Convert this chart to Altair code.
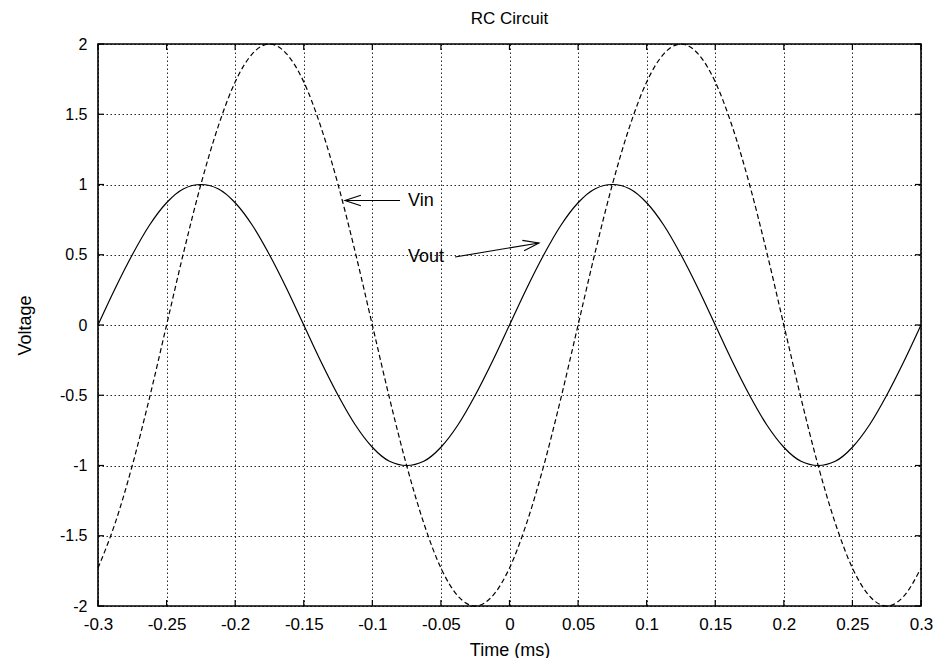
import altair as alt
import pandas as pd

# sampled read-off values
time_ms = [-0.3, -0.2875, -0.275, -0.2625, -0.25, -0.2375, -0.225, -0.2125, -0.2, -0.1875,
           -0.175, -0.1625, -0.15, -0.1375, -0.125, -0.1125, -0.1, -0.0875, -0.075, -0.0625,
           -0.05, -0.0375, -0.025, -0.0125, 0.0, 0.0125, 0.025, 0.0375, 0.05, 0.0625,
           0.075, 0.0875, 0.1, 0.1125, 0.125, 0.1375, 0.15, 0.1625, 0.175, 0.1875,
           0.2, 0.2125, 0.225, 0.2375, 0.25, 0.2625, 0.275, 0.2875, 0.3]
vout = [0, 0.26, 0.5, 0.71, 0.87, 0.97, 1, 0.97, 0.87, 0.71, 0.5, 0.26, 0,
        -0.26, -0.5, -0.71, -0.87, -0.97, -1, -0.97, -0.87, -0.71, -0.5, -0.26, 0,
        0.26, 0.5, 0.71, 0.87, 0.97, 1, 0.97, 0.87, 0.71, 0.5, 0.26, 0,
        -0.26, -0.5, -0.71, -0.87, -0.97, -1, -0.97, -0.87, -0.71, -0.5, -0.26, 0]
vin = [-1.73, -1.41, -1, -0.52, 0, 0.52, 1, 1.41, 1.73, 1.93, 2, 1.93, 1.73,
       1.41, 1, 0.52, 0, -0.52, -1, -1.41, -1.73, -1.93, -2, -1.93, -1.73,
       -1.41, -1, -0.52, 0, 0.52, 1, 1.41, 1.73, 1.93, 2, 1.93, 1.73,
       1.41, 1, 0.52, 0, -0.52, -1, -1.41, -1.73, -1.93, -2, -1.93, -1.73]

x_ticks = [-0.3, -0.25, -0.2, -0.15, -0.1, -0.05, 0, 0.05, 0.1, 0.15, 0.2, 0.25, 0.3]
y_ticks = [-2, -1.5, -1, -0.5, 0, 0.5, 1, 1.5, 2]

labels = ["Vin", "Vout"]
label_x = [-0.074, -0.074]
label_y = [0.883, 0.484]
arrow_id = ["Vin", "Vin", "Vout", "Vout"]
arrow_x = [-0.0798, -0.12, -0.0397, 0.0215]
arrow_y = [0.886, 0.886, 0.484, 0.584]
head_x = [-0.12, 0.0215]
head_y = [0.886, 0.584]
head_angle = [180, 350.6]

W, H = 823, 562
FONT = "Liberation Sans"
LABEL_EXPR = "datum.value + ''"

df_out = pd.DataFrame({"t": time_ms, "v": vout})
df_in = pd.DataFrame({"t": time_ms, "v": vin})

xscale = alt.Scale(domain=[-0.3, 0.3], nice=False, zero=False)
yscale = alt.Scale(domain=[-2, 2], nice=False, zero=False)

common = dict(ticks=False, domain=False, grid=True, labelFlush=False, labelOverlap=False,
              labelFont=FONT, labelColor="black",
              titleFont=FONT, titleFontSize=18, titleFontWeight="normal", titleColor="black",
              gridColor="black", gridDash=[1.5, 2.5], gridWidth=1, gridOpacity=0.85)
xaxis = alt.Axis(values=x_ticks, labelExpr=LABEL_EXPR, title="Time (ms)",
                 labelPadding=10, titlePadding=9, labelFontSize=17, **common)
yaxis = alt.Axis(values=y_ticks, labelExpr=LABEL_EXPR, title="Voltage",
                 labelPadding=11, titlePadding=25, labelFontSize=16, **common)

line_out = alt.Chart(df_out).mark_line(color="black", strokeWidth=1.2, interpolate="monotone").encode(
    x=alt.X("t:Q", scale=xscale, axis=xaxis), y=alt.Y("v:Q", scale=yscale, axis=yaxis))
line_in = alt.Chart(df_in).mark_line(color="black", strokeWidth=1.2, strokeDash=[5, 3],
                                     interpolate="monotone").encode(
    x=alt.X("t:Q", scale=xscale), y=alt.Y("v:Q", scale=yscale))

tx = pd.DataFrame({"t": x_ticks})
ty = pd.DataFrame({"v": y_ticks})
tick_b = alt.Chart(tx).mark_rule(color="black", strokeWidth=1.2).encode(
    x=alt.X("t:Q", scale=xscale), y=alt.value(H), y2=alt.value(H - 6))
tick_t = alt.Chart(tx).mark_rule(color="black", strokeWidth=1.2).encode(
    x=alt.X("t:Q", scale=xscale), y=alt.value(0), y2=alt.value(6))
tick_l = alt.Chart(ty).mark_rule(color="black", strokeWidth=1.2).encode(
    y=alt.Y("v:Q", scale=yscale), x=alt.value(0), x2=alt.value(6))
tick_r = alt.Chart(ty).mark_rule(color="black", strokeWidth=1.2).encode(
    y=alt.Y("v:Q", scale=yscale), x=alt.value(W), x2=alt.value(W - 6))

lab = alt.Chart(pd.DataFrame({"label": labels, "x": label_x, "y": label_y})).mark_text(
    align="left", baseline="middle", font=FONT, fontSize=18, color="black").encode(
    x=alt.X("x:Q", scale=xscale), y=alt.Y("y:Q", scale=yscale), text="label:N")

arr = alt.Chart(pd.DataFrame({"id": arrow_id, "x": arrow_x, "y": arrow_y})).mark_line(
    color="black", strokeWidth=1.1).encode(
    x=alt.X("x:Q", scale=xscale), y=alt.Y("y:Q", scale=yscale), detail="id:N")

heads = alt.Chart(pd.DataFrame({"x": head_x, "y": head_y, "a": head_angle})).mark_point(
    shape="M-1,-0.33L0,0L-1,0.33", filled=False, color="black", strokeWidth=1.1, size=1024,
    opacity=1).encode(
    x=alt.X("x:Q", scale=xscale), y=alt.Y("y:Q", scale=yscale),
    angle=alt.Angle("a:Q", scale=None))

chart = alt.layer(line_out, line_in, tick_b, tick_t, tick_l, tick_r, arr, heads, lab).properties(
    width=W, height=H,
    title=alt.Title("RC Circuit", font=FONT, fontSize=17, fontWeight="normal", color="black",
                    offset=8, anchor="middle"),
    autosize=alt.AutoSizeParams(type="none"),
    padding={"left": 90, "top": 36, "right": 12, "bottom": 52},
).configure_view(stroke="black", strokeWidth=1.6)

chart.save("out.html", embed_options={"renderer": "svg", "actions": False})
